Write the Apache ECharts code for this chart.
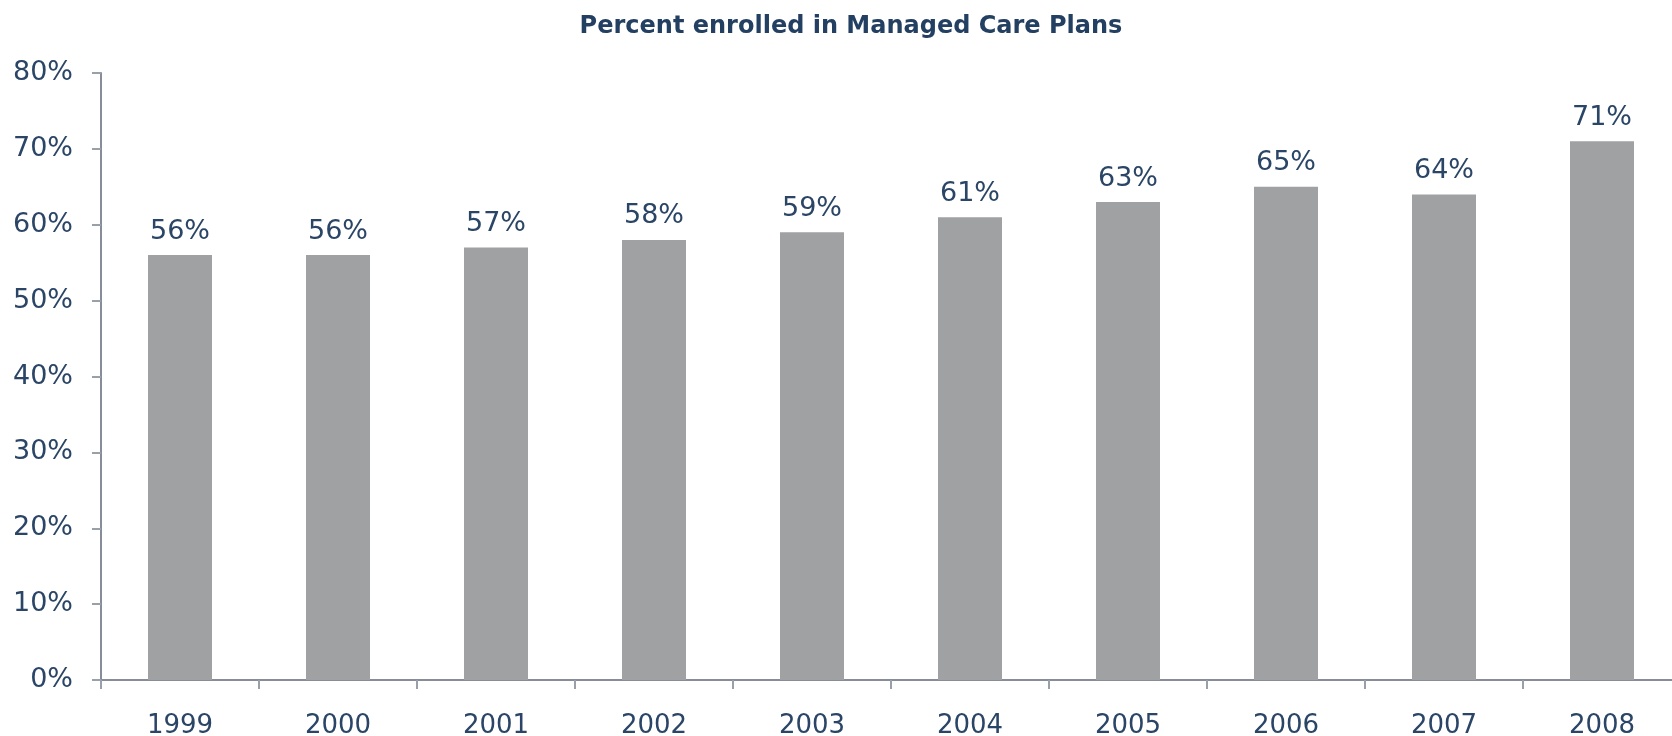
<!DOCTYPE html>
<html>
<head>
<meta charset="utf-8">
<script src="https://cdn.jsdelivr.net/npm/echarts@6/dist/echarts.min.js"></script>
<style>
  html, body { margin: 0; padding: 0; background: #ffffff; }
  #chart { width: 1672px; height: 736px; }
</style>
</head>
<body>
<div id="chart"></div>
<script>
// Share of enrollees in managed care plans, by year
const years = ['1999', '2000', '2001', '2002', '2003', '2004', '2005', '2006', '2007', '2008'];
const percentEnrolled = [56, 56, 57, 58, 59, 61, 63, 65, 64, 71];
const yTicks = [0, 10, 20, 30, 40, 50, 60, 70, 80];

const textColor = '#2b4566';
const axisColor = '#878c99';
const fontFamily = '"DejaVu Sans", sans-serif';

const chart = echarts.init(document.getElementById('chart'), null, { renderer: 'canvas' });

chart.setOption({
  backgroundColor: '#ffffff',
  animation: false,
  title: {
    text: 'Percent enrolled in Managed Care Plans',
    left: 846,
    textAlign: 'center',
    top: 10,
    textStyle: {
      color: '#233f62',
      fontFamily: fontFamily,
      fontWeight: 'bold',
      fontSize: 24
    }
  },
  grid: {
    left: 101,
    right: -9,
    top: 73,
    bottom: 56,
    containLabel: false,
    outerBoundsMode: 'none'
  },
  xAxis: {
    type: 'category',
    data: years,
    axisLine: { show: true, lineStyle: { color: axisColor, width: 2 } },
    axisTick: { show: true, length: 9, lineStyle: { color: '#9aa0aa', width: 2 } },
    axisLabel: {
      color: textColor,
      fontFamily: fontFamily,
      fontSize: 26,
      margin: 33
    }
  },
  yAxis: {
    type: 'value',
    min: yTicks[0],
    max: yTicks[yTicks.length - 1],
    interval: 10,
    axisLine: { show: true, lineStyle: { color: axisColor, width: 2 } },
    axisTick: { show: true, length: 9, lineStyle: { color: '#9aa0aa', width: 2 } },
    splitLine: { show: false },
    axisLabel: {
      color: textColor,
      fontFamily: fontFamily,
      fontSize: 27,
      margin: 28,
      formatter: v => v + '%'
    }
  },
  series: [{
    type: 'bar',
    data: percentEnrolled,
    barWidth: '40.5%',
    itemStyle: { color: '#a0a1a3' },
    label: {
      show: true,
      position: 'top',
      distance: 10,
      color: textColor,
      fontFamily: fontFamily,
      fontSize: 27,
      formatter: p => p.value + '%'
    }
  }]
});
</script>
</body>
</html>
